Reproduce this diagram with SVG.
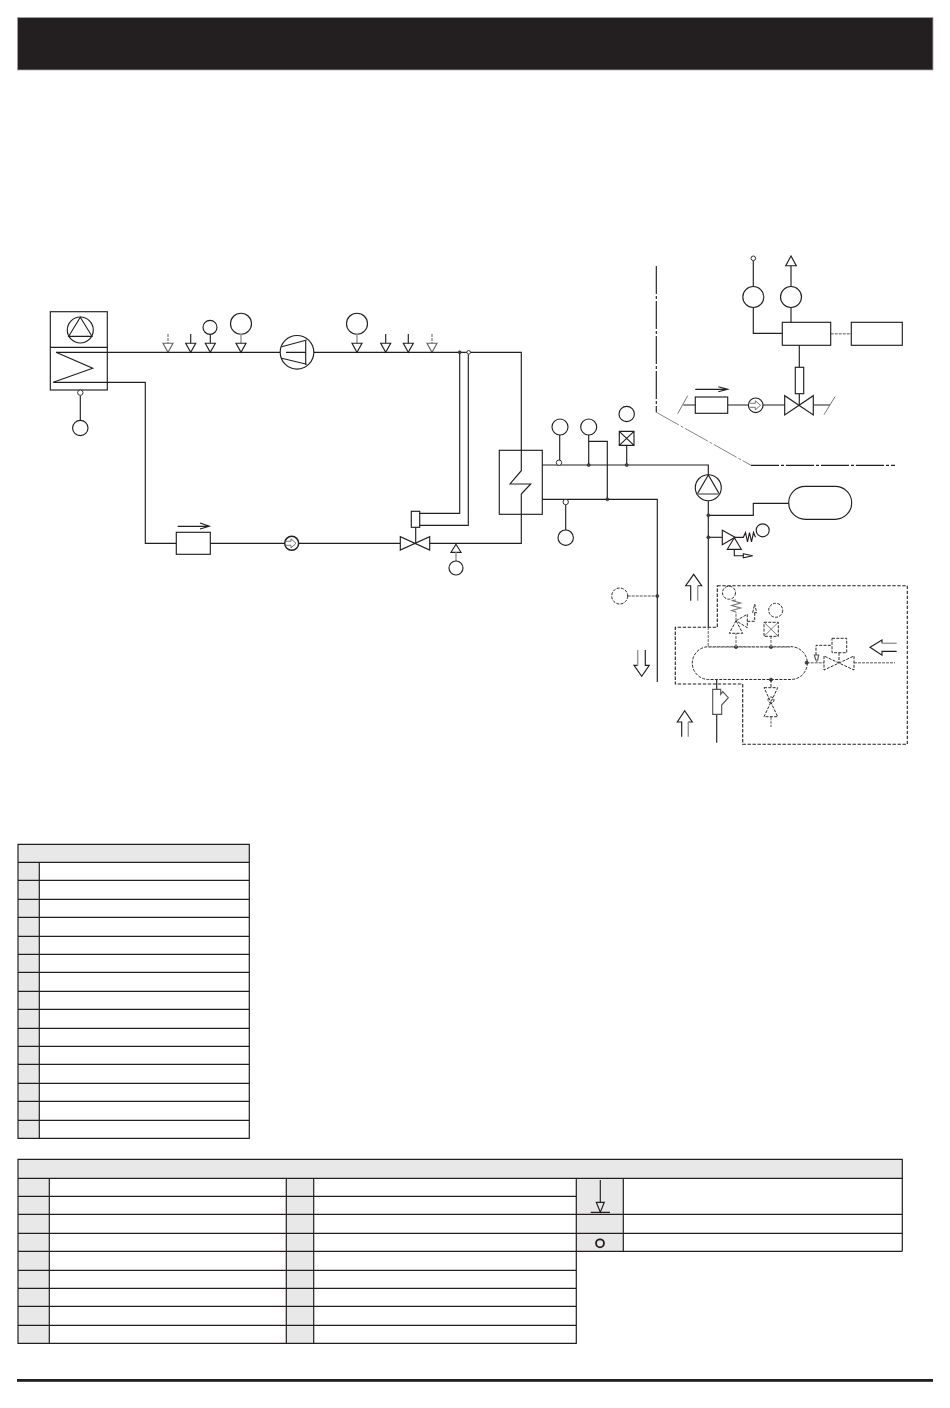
<svg xmlns="http://www.w3.org/2000/svg" width="950" height="1408" viewBox="0 0 950 1408">
<style>
.l{fill:none;stroke:#231f20;stroke-width:1.15}
.w{fill:#fff;stroke:#231f20;stroke-width:1}
.t{fill:none;stroke:#555;stroke-width:.8}
.g{fill:none;stroke:#8f8f8f;stroke-width:1.4;stroke-dasharray:3 1}
.gs{fill:none;stroke:#9a9a9a;stroke-width:1.5}
.d{fill:none;stroke:#231f20;stroke-width:1.1;stroke-dasharray:3.4 1.6}
.dl{fill:none;stroke:#222;stroke-width:.95;stroke-dasharray:3 1.3}
.dd{fill:none;stroke:#231f20;stroke-width:1.15;stroke-dasharray:28 2 3 2}
.thin{fill:none;stroke:#666;stroke-width:.8;stroke-dasharray:26 2 3 2}
.dot{fill:#444;stroke:#231f20;stroke-width:.6}
.o{fill:#fff;stroke:#231f20;stroke-width:.9}
.tb{fill:none;stroke:#231f20;stroke-width:1.2}
.hd{fill:#e8e8e8}
</style>
<defs>
<g id="sensor"><polygon class="l" points="-5,-9 5,-9 0,0"/></g>
</defs>
<g id="header"><rect x="17.4" y="17.4" width="915.6" height="52.6" fill="#231f20" stroke="#aaa" stroke-width=".8"/></g>
<g id="footer-rule"><rect x="17" y="1379" width="916" height="2.8" fill="#231f20"/></g>

<g id="connectors">
<path class="l" d="M56 352.3H280M314 352.3H521.3V470.7L510 484H530.7L521.3 494V543.3H429.7"/>
<path class="l" d="M53.3 382.3H145.3V543.3H176.3M210.3 543.3H284.7M298.7 543.3H400.3"/>
<path class="l" d="M80.3 395.4V420.3"/>
<path class="l" d="M419.7 513.3H459.7V352.3M419.7 525.3H468.3V354.3"/>
<path class="l" d="M415.7 527.3V543.3"/>
<path class="l" d="M542.3 465H708.3V475M542.3 499.3H657.3V682"/>
<path class="l" d="M559.7 460V435M588.7 435V465M588.7 441.3H607.3V499.3M626.7 445.3V465"/>
<path class="l" d="M565.7 504.7V530"/>
<path class="l" d="M708.3 500.7V627"/>
<path class="g" d="M708.3 627V647"/>
<path class="l" d="M708.3 515.3H753.3V503.3H788.7"/>
<path class="l" d="M708.3 537.3H722.3"/>
<path class="g" d="M627.7 596H657.3"/>
<path class="l" d="M753.3 260.6V286.5M753.3 307.5V333.3H782.3M791 265.7V286.5M791 307.5V322.3"/>
<path class="g" d="M830.7 333.7H851.3"/>
<path class="l" d="M799.3 345.3V367.3M799.3 393.7V405"/>
<path class="l" d="M683.3 405H695.3M727.7 405H748.4M763 405H784.7M813.3 405H830"/>
<path class="t" d="M687.7 395.7L677.7 413.7M835 396.7L824 414.7"/>
<path class="l" d="M716.7 679.7V689.3M716.7 714.3V742.7"/>
<path class="g" d="M806.7 662.7H824M854 662.7H895"/>
<path class="g" d="M771 716.7V727"/>
</g>

<g id="boundary">
<path class="dd" d="M656.3 266V412.3"/>
<path class="thin" d="M656.3 412.3L751 465.3"/>
<path class="dd" d="M751 465.3H895"/>
</g>

<g id="outdoor-unit">
<rect class="l" x="50.3" y="311.7" width="57" height="78.3"/>
<path class="l" d="M50.3 347.3H107.3"/>
<circle class="l" cx="80.3" cy="330" r="13"/>
<polygon class="l" points="80.3,317.3 68.7,336.3 92,336.3"/>
<path class="l" d="M56 352.3L92.7 368.3L53.3 382.3"/>
<circle class="o" cx="80.3" cy="392.7" r="2.7"/>
<circle class="l" cx="80.3" cy="428" r="7.7"/>
</g>

<g id="s1"><path class="g" d="M168 334V343.3"/><use href="#sensor" x="168" y="352.3" opacity=".7"/></g>
<g id="s2"><path class="l" d="M190.7 334V343.3"/><use href="#sensor" x="190.7" y="352.3"/></g>
<g id="s3"><circle class="l" cx="210" cy="327.3" r="7"/><path class="l" d="M210.3 334.3V343.3"/><use href="#sensor" x="210.3" y="352.3"/></g>
<g id="s4"><circle class="l" cx="241" cy="323.7" r="10.5"/><path class="gs" d="M241 334.2V343.3"/><use href="#sensor" x="241" y="352.3"/></g>

<g id="compressor">
<circle class="l" cx="297" cy="352.3" r="16.8"/>
<path class="l" d="M281.7 346.7L306.7 340M281.7 358.3L306.7 364.3M286 352.3H305.7M305.7 341V365"/>
</g>

<g id="s5"><circle class="l" cx="357" cy="323.7" r="10.5"/><path class="gs" d="M357 334.2V343.3"/><use href="#sensor" x="357" y="352.3"/></g>
<g id="s6"><path class="l" d="M385.7 334V343.3"/><use href="#sensor" x="385.7" y="352.3"/></g>
<g id="s7"><path class="l" d="M408.3 334V343.3"/><use href="#sensor" x="408.3" y="352.3"/></g>
<g id="s8"><path class="g" d="M432 334V343.3"/><use href="#sensor" x="432" y="352.3" opacity=".7"/></g>
<g id="j1"><circle class="dot" cx="459.7" cy="352.3" r="1.5"/><circle class="o" cx="468.7" cy="352.3" r="1.8"/></g>

<g id="filter-drier">
<rect class="l" x="176.3" y="532.3" width="34" height="22"/>
<path class="l" d="M177.7 526.3H209.3M200 523L209.3 526.3L200 529"/>
</g>
<g id="sight-glass">
<circle class="l" cx="291.7" cy="543.3" r="7" style="stroke-width:1.5"/>
<path class="t" d="M285 541.3H291V538.7L296 543.3L291 547.9V545.3H285"/>
</g>
<g id="expansion-valve">
<rect class="l" x="411.3" y="511.3" width="8.4" height="16"/>
<path class="l" d="M400.3 536.7V550L429.7 536.7V550Z"/>
</g>
<g id="s9"><polygon class="l" points="456,544.3 451,552.3 461,552.3"/><path class="gs" d="M456 552.3V561"/><circle class="l" cx="456" cy="568" r="7"/></g>

<g id="heat-exchanger"><rect class="l" x="499.3" y="450.3" width="43" height="64"/></g>

<g id="s10"><circle class="l" cx="560" cy="427" r="8"/><circle class="o" cx="559" cy="462.7" r="2.7"/></g>
<g id="s11"><circle class="l" cx="588.7" cy="427" r="8"/><circle class="dot" cx="588.7" cy="465" r="1.5"/><circle class="dot" cx="607.3" cy="499.3" r="1.5"/></g>
<g id="s12"><circle class="l" cx="626.7" cy="414" r="7.7"/><path class="l" d="M619.3 431.3H634V445.3H619.3ZM619.3 431.3L634 445.3M634 431.3L619.3 445.3"/><circle class="dot" cx="626.7" cy="465" r="1.5"/></g>
<g id="s13"><circle class="o" cx="565.7" cy="502" r="2.7"/><circle class="l" cx="565.7" cy="537.7" r="7.7"/></g>
<g id="s14"><circle class="dl" cx="619.7" cy="596" r="8"/><circle class="dot" cx="657.3" cy="596" r="1.5"/></g>

<g id="controls">
<circle class="l" cx="753.3" cy="297" r="10.5"/>
<circle class="o" cx="753.3" cy="258.3" r="2.3"/>
<circle class="l" cx="791" cy="297" r="10.5"/>
<polygon class="l" points="791,256 785.7,265.7 796.3,265.7"/>
<rect class="l" x="782.3" y="322.3" width="48.4" height="23"/>
<rect class="l" x="851.3" y="322.3" width="51" height="23"/>
<rect class="l" x="795.3" y="367.3" width="8.4" height="26.4"/>
<path class="l" d="M784.7 395.7V415L813.3 395.7V415Z"/>
<rect class="l" x="695.3" y="397" width="32.4" height="16.3"/>
<path class="l" d="M695.3 389.3H727.7M718.3 386.7L727.7 389.3L718.3 391.7"/>
<circle class="l" cx="755.7" cy="405.3" r="7.3"/>
<path class="t" d="M749.5 403.3H755.3V400.7L760.5 405.3L755.3 409.9V407.3H749.5"/>
</g>

<g id="pump">
<circle class="l" cx="708.3" cy="487.7" r="13"/>
<polygon class="l" points="708.3,475 697.3,494 719.3,494"/>
<path class="gs" d="M697.3 494H719.3"/>
<circle class="dot" cx="708.3" cy="515.3" r="1.5"/>
<circle class="dot" cx="708.3" cy="537.3" r="1.5"/>
</g>
<g id="expansion-vessel"><rect class="l" x="788.7" y="486.3" width="63" height="33" rx="16.5"/></g>
<g id="relief-valve">
<polygon class="l" points="722.3,530.3 722.3,544.7 735,537.3"/>
<polygon class="l" points="734.3,537.7 727.3,549.3 741.3,549.3"/>
<path class="l" d="M735 537.3H743.3L745.5 532.5L747.5 542L749.5 532.5L751.5 542L753.5 532.5L755.5 537.3"/>
<circle class="l" cx="762.7" cy="530.3" r="6.5"/>
<path class="l" d="M734.3 549.3V555.7H743.3M743.3 553.7L752.7 555.7L743.3 557.7Z"/>
</g>

<g id="flow-arrows">
<path class="l" d="M690.7 600.7V585.7H685.7L693.7 574.3L701.7 585.7H697.7"/><path class="gs" d="M697.7 585.7V600.7"/>
<path class="l" d="M645.3 650V665.3H649.3L641.7 676.3L634 665.3H637.7"/><path class="gs" d="M637.7 665.3V650"/>
<path class="l" d="M681.7 736.7V722H677.3L684.7 710.7L692.3 722H688.3"/><path class="gs" d="M688.3 722V736.7"/>
<path class="l" d="M896.7 651.3H882V655.3L870 647.3L882 640V643.3"/><path class="gs" d="M882 643.3H896.7"/>
</g>

<g id="make-up-unit">
<path class="d" d="M717.3 585.7H907.3V744.3H742.7V684H675.3V627.3H717.3Z"/>
<rect class="dl" x="692.3" y="646.7" width="115" height="32.8" rx="16.4"/>
<path class="g" d="M708.3 647H790"/>
<circle class="dot" cx="736" cy="647" r="1.6"/>
<circle class="dot" cx="771" cy="647" r="1.6"/>
<circle class="dot" cx="806.7" cy="662.7" r="1.6"/>
<circle class="dot" cx="771" cy="679.7" r="1.6"/>
</g>
<g id="strainer"><path class="l" d="M712.7 689.3H720.7V694.3L722.7 691.7L728.3 697.7L721.7 705V714.3H712.7Z" style="stroke:#555"/></g>
<g id="safety-valve">
<path class="g" d="M736 647V633.3"/>
<polygon class="dl" points="736,620.7 729.3,633.3 742.7,633.3"/>
<polygon class="dl" points="736,620.7 747.3,614.3 747.3,627.7"/>
<path class="g" d="M736 620.7V612"/>
<path class="l" d="M736 612L731.7 610.5L740.7 608L731.7 605.5L740.7 603L731.7 600.5L736 600" style="stroke:#777"/>
<circle class="dl" cx="729" cy="592.7" r="6.5"/>
<path class="dl" d="M747.3 621.3H754.7V612.7M752.7 612.7L754.7 604L756.7 612.7Z"/>
</g>
<g id="pressure-switch">
<path class="g" d="M771 647V636.3"/>
<rect class="dl" x="764" y="622.3" width="14.3" height="14"/>
<path class="t" d="M764 622.3L778.3 636.3M778.3 622.3L764 636.3"/>
<circle class="dl" cx="775.7" cy="610.3" r="7"/>
</g>
<g id="drain-valve">
<path class="dl" d="M771 679.7V687.7"/>
<path class="dl" d="M764 687.7H777.7L764 716.7H777.7Z"/>
<circle class="dl" cx="771" cy="700" r="3"/>
</g>
<g id="fill-valve">
<path class="dl" d="M824 656V670L854 656V670Z"/>
<rect class="dl" x="832" y="638.3" width="14.7" height="14.4"/>
<path class="dl" d="M839 652.7V663M816 655V645.3H832"/>
<path class="l" d="M814.3 655H818.7L817.7 660H815.7Z" style="stroke:#555"/>
<path class="g" d="M816.7 660V662.7"/>
</g>

<g id="table-1">
<rect class="hd" x="18" y="844.3" width="231.3" height="18"/>
<rect class="hd" x="18" y="862.3" width="21.3" height="276"/>
<path class="tb" d="M18 844.3H249.3V1138.3H18ZM39.3 862.3V1138.3"/>
<path class="tb" d="M18 862.3H249.3M18 880.3H249.3M18 899.3H249.3M18 917.3H249.3M18 936.3H249.3M18 954.3H249.3M18 972.3H249.3M18 991.3H249.3M18 1009.3H249.3M18 1028.3H249.3M18 1046.3H249.3M18 1064.3H249.3M18 1083.3H249.3M18 1101.3H249.3M18 1120.3H249.3"/>
</g>
<g id="table-2">
<rect class="hd" x="18" y="1159.3" width="884.3" height="19"/>
<rect class="hd" x="18" y="1178.3" width="31.3" height="165"/>
<rect class="hd" x="286.3" y="1178.3" width="27.4" height="165"/>
<rect class="hd" x="576.3" y="1178.3" width="47" height="73"/>
<path class="tb" d="M18 1159.3H902.3V1178.3H18ZM18 1178.3V1343.3H576.3V1178.3M49.3 1178.3V1343.3M286.3 1178.3V1343.3M313.7 1178.3V1343.3"/>
<path class="tb" d="M18 1196.3H576.3M18 1214.3H576.3M18 1233.3H576.3M18 1251.3H576.3M18 1270.3H576.3M18 1288.3H576.3M18 1306.3H576.3M18 1325.3H576.3"/>
<path class="tb" d="M576.3 1214.3H902.3M576.3 1233.3H902.3M576.3 1251.3H902.3M623.3 1178.3V1251.3M902.3 1178.3V1251.3"/>
<path class="l" d="M600.3 1180V1202.3M596.3 1202.3H604.3L600.3 1212.3ZM590.7 1212.3H610"/>
<circle cx="600" cy="1243.3" r="4" fill="none" stroke="#231f20" stroke-width="1.8"/>
</g>
</svg>
